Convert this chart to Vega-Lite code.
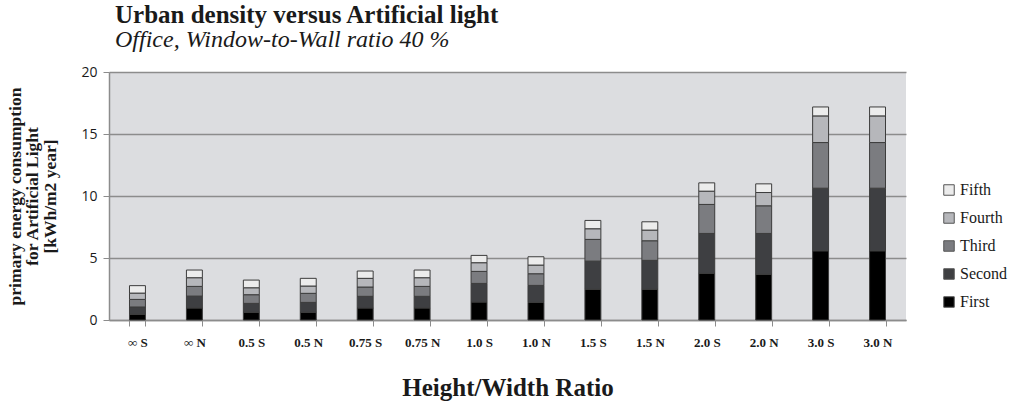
{
  "$schema": "https://vega.github.io/schema/vega-lite/v6.json",
  "autosize": "none",
  "width": 797,
  "height": 248,
  "padding": {"left": 109, "top": 72, "right": 115, "bottom": 81},
  "background": "white",
  "title": {
    "text": "Urban density versus Artificial light",
    "subtitle": "Office, Window-to-Wall ratio 40 %",
    "anchor": "start",
    "frame": "group",
    "dx": 6,
    "font": "Liberation Serif",
    "fontSize": 25,
    "fontWeight": "bold",
    "color": "#1a1a1a",
    "subtitleFont": "Liberation Serif",
    "subtitleFontSize": 24,
    "subtitleFontStyle": "italic",
    "subtitleColor": "#1a1a1a",
    "subtitlePadding": 0,
    "offset": 13
  },
  "datasets": {
    "bars": [
      {"ratio": "∞ S", "level": "First", "n": 1, "value": 0.46},
      {"ratio": "∞ S", "level": "Second", "n": 2, "value": 0.59},
      {"ratio": "∞ S", "level": "Third", "n": 3, "value": 0.61},
      {"ratio": "∞ S", "level": "Fourth", "n": 4, "value": 0.51},
      {"ratio": "∞ S", "level": "Fifth", "n": 5, "value": 0.60},
      {"ratio": "∞ N", "level": "First", "n": 1, "value": 0.97},
      {"ratio": "∞ N", "level": "Second", "n": 2, "value": 0.96},
      {"ratio": "∞ N", "level": "Third", "n": 3, "value": 0.78},
      {"ratio": "∞ N", "level": "Fourth", "n": 4, "value": 0.70},
      {"ratio": "∞ N", "level": "Fifth", "n": 5, "value": 0.62},
      {"ratio": "0.5 S", "level": "First", "n": 1, "value": 0.62},
      {"ratio": "0.5 S", "level": "Second", "n": 2, "value": 0.72},
      {"ratio": "0.5 S", "level": "Third", "n": 3, "value": 0.70},
      {"ratio": "0.5 S", "level": "Fourth", "n": 4, "value": 0.56},
      {"ratio": "0.5 S", "level": "Fifth", "n": 5, "value": 0.62},
      {"ratio": "0.5 N", "level": "First", "n": 1, "value": 0.62},
      {"ratio": "0.5 N", "level": "Second", "n": 2, "value": 0.80},
      {"ratio": "0.5 N", "level": "Third", "n": 3, "value": 0.73},
      {"ratio": "0.5 N", "level": "Fourth", "n": 4, "value": 0.59},
      {"ratio": "0.5 N", "level": "Fifth", "n": 5, "value": 0.62},
      {"ratio": "0.75 S", "level": "First", "n": 1, "value": 0.97},
      {"ratio": "0.75 S", "level": "Second", "n": 2, "value": 0.94},
      {"ratio": "0.75 S", "level": "Third", "n": 3, "value": 0.75},
      {"ratio": "0.75 S", "level": "Fourth", "n": 4, "value": 0.70},
      {"ratio": "0.75 S", "level": "Fifth", "n": 5, "value": 0.59},
      {"ratio": "0.75 N", "level": "First", "n": 1, "value": 0.97},
      {"ratio": "0.75 N", "level": "Second", "n": 2, "value": 0.94},
      {"ratio": "0.75 N", "level": "Third", "n": 3, "value": 0.80},
      {"ratio": "0.75 N", "level": "Fourth", "n": 4, "value": 0.70},
      {"ratio": "0.75 N", "level": "Fifth", "n": 5, "value": 0.62},
      {"ratio": "1.0 S", "level": "First", "n": 1, "value": 1.45},
      {"ratio": "1.0 S", "level": "Second", "n": 2, "value": 1.50},
      {"ratio": "1.0 S", "level": "Third", "n": 3, "value": 0.97},
      {"ratio": "1.0 S", "level": "Fourth", "n": 4, "value": 0.70},
      {"ratio": "1.0 S", "level": "Fifth", "n": 5, "value": 0.59},
      {"ratio": "1.0 N", "level": "First", "n": 1, "value": 1.42},
      {"ratio": "1.0 N", "level": "Second", "n": 2, "value": 1.37},
      {"ratio": "1.0 N", "level": "Third", "n": 3, "value": 0.94},
      {"ratio": "1.0 N", "level": "Fourth", "n": 4, "value": 0.70},
      {"ratio": "1.0 N", "level": "Fifth", "n": 5, "value": 0.67},
      {"ratio": "1.5 S", "level": "First", "n": 1, "value": 2.47},
      {"ratio": "1.5 S", "level": "Second", "n": 2, "value": 2.28},
      {"ratio": "1.5 S", "level": "Third", "n": 3, "value": 1.75},
      {"ratio": "1.5 S", "level": "Fourth", "n": 4, "value": 0.86},
      {"ratio": "1.5 S", "level": "Fifth", "n": 5, "value": 0.67},
      {"ratio": "1.5 N", "level": "First", "n": 1, "value": 2.47},
      {"ratio": "1.5 N", "level": "Second", "n": 2, "value": 2.34},
      {"ratio": "1.5 N", "level": "Third", "n": 3, "value": 1.58},
      {"ratio": "1.5 N", "level": "Fourth", "n": 4, "value": 0.86},
      {"ratio": "1.5 N", "level": "Fifth", "n": 5, "value": 0.67},
      {"ratio": "2.0 S", "level": "First", "n": 1, "value": 3.76},
      {"ratio": "2.0 S", "level": "Second", "n": 2, "value": 3.22},
      {"ratio": "2.0 S", "level": "Third", "n": 3, "value": 2.34},
      {"ratio": "2.0 S", "level": "Fourth", "n": 4, "value": 1.07},
      {"ratio": "2.0 S", "level": "Fifth", "n": 5, "value": 0.67},
      {"ratio": "2.0 N", "level": "First", "n": 1, "value": 3.68},
      {"ratio": "2.0 N", "level": "Second", "n": 2, "value": 3.30},
      {"ratio": "2.0 N", "level": "Third", "n": 3, "value": 2.23},
      {"ratio": "2.0 N", "level": "Fourth", "n": 4, "value": 1.07},
      {"ratio": "2.0 N", "level": "Fifth", "n": 5, "value": 0.70},
      {"ratio": "3.0 S", "level": "First", "n": 1, "value": 5.58},
      {"ratio": "3.0 S", "level": "Second", "n": 2, "value": 5.05},
      {"ratio": "3.0 S", "level": "Third", "n": 3, "value": 3.68},
      {"ratio": "3.0 S", "level": "Fourth", "n": 4, "value": 2.15},
      {"ratio": "3.0 S", "level": "Fifth", "n": 5, "value": 0.72},
      {"ratio": "3.0 N", "level": "First", "n": 1, "value": 5.58},
      {"ratio": "3.0 N", "level": "Second", "n": 2, "value": 5.05},
      {"ratio": "3.0 N", "level": "Third", "n": 3, "value": 3.68},
      {"ratio": "3.0 N", "level": "Fourth", "n": 4, "value": 2.15},
      {"ratio": "3.0 N", "level": "Fifth", "n": 5, "value": 0.72}
    ]
  },
  "data": {"name": "bars"},
  "mark": {"type": "bar", "stroke": "#3c3c3c", "strokeWidth": 1},
  "encoding": {
    "x": {
      "field": "ratio",
      "type": "nominal",
      "sort": null,
      "scale": {"paddingInner": 0.72, "paddingOuter": 0.36},
      "axis": {
        "title": "Height/Width Ratio",
        "titleFont": "Liberation Serif",
        "titleFontSize": 25,
        "titleFontWeight": "bold",
        "titleColor": "#1a1a1a",
        "titlePadding": 26,
        "labelAngle": 0,
        "labelFont": "Liberation Serif",
        "labelFontSize": 13,
        "labelFontWeight": "bold",
        "labelColor": "#1a1a1a",
        "labelPadding": 10,
        "tickBand": "extent",
        "tickSize": 6,
        "tickColor": "#8c8c8c",
        "domainColor": "#8c8c8c",
        "domainWidth": 1.5
      }
    },
    "y": {
      "field": "value",
      "type": "quantitative",
      "aggregate": "sum",
      "stack": "zero",
      "scale": {"domain": [0, 20]},
      "axis": {
        "title": ["primary energy consumption", "for Artificial Light", "[kWh/m2 year]"],
        "titleFont": "Liberation Serif",
        "titleFontSize": 17.5,
        "titleFontWeight": "bold",
        "titleColor": "#1a1a1a",
        "titleLineHeight": 17.5,
        "titleAngle": -90,
        "titleAlign": "center",
        "titleBaseline": "middle",
        "titleX": -94,
        "titleY": 124,
        "values": [0, 5, 10, 15, 20],
        "labelFont": "Open Sans",
        "labelFontSize": 14,
        "labelColor": "#1a1a1a",
        "labelPadding": 6,
        "tickSize": 6,
        "tickColor": "#8c8c8c",
        "domainColor": "#8c8c8c",
        "domainWidth": 1.5,
        "grid": true,
        "gridColor": "#8c8c8c",
        "gridWidth": 1.5
      }
    },
    "color": {
      "field": "level",
      "type": "nominal",
      "scale": {
        "domain": ["Fifth", "Fourth", "Third", "Second", "First"],
        "range": ["#ececec", "#b6b7bb", "#7b7c80", "#3e3f42", "#000000"]
      },
      "legend": {
        "title": null,
        "orient": "none",
        "legendX": 832,
        "legendY": 110,
        "symbolType": "square",
        "symbolSize": 110,
        "symbolStrokeColor": "#555555",
        "symbolStrokeWidth": 1,
        "labelFont": "Liberation Serif",
        "labelFontSize": 16,
        "labelColor": "#1a1a1a",
        "labelOffset": 3,
        "rowPadding": 12
      }
    },
    "order": {"field": "n", "type": "quantitative", "sort": "ascending"}
  },
  "config": {
    "view": {"fill": "#dcdde0", "stroke": null}
  }
}
